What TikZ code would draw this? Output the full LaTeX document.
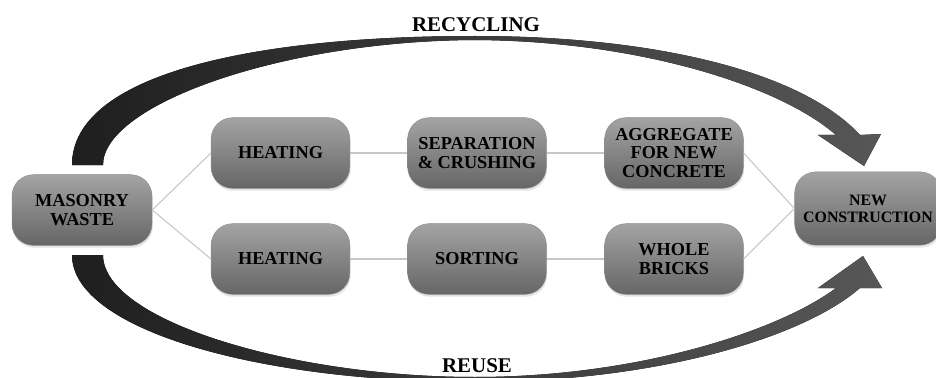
\documentclass[tikz,border=0pt]{standalone}
\usepackage{fontspec}
\setmainfont{Liberation Serif}
\usetikzlibrary{shadows}
\begin{document}
\begin{tikzpicture}[x=0.75pt,y=-0.75pt,
  box/.style={rounded corners=16pt, minimum width=104pt, minimum height=53pt,
    top color=black!36, bottom color=black!60, draw=black!45, line width=0.3pt,
    align=center, font=\fontsize{13.7}{14.2}\selectfont\bfseries, text=black,
    drop shadow={opacity=0.22, shadow xshift=0.6pt, shadow yshift=-1.8pt}, inner sep=1pt},
  link/.style={draw=black!22, line width=0.8pt},
  bigarrow/.style={left color=black!88, right color=black!66, draw=none},
  title/.style={font=\fontsize{15.7}{16}\selectfont\bfseries, text=black}
]
\useasboundingbox (0,0) rectangle (936,378);

% curved block arrows
\fill[bigarrow] (72,165) .. controls (72,75) and (250,36) .. (475,36)
  .. controls (650,36) and (800,70) .. (860,135) -- (881,134) -- (864,166)
  -- (818,135) -- (836,135) .. controls (780,86) and (640,41) .. (475,40)
  .. controls (280,41) and (103,105) .. (103,165) -- cycle;
\fill[bigarrow] (72,255) .. controls (72,330) and (260,382) .. (475,382)
  .. controls (650,382) and (800,340) .. (860,288) -- (882,288) -- (863,256)
  -- (818,288) -- (836,288) .. controls (780,330) and (640,377) .. (475,377)
  .. controls (290,377) and (103,320) .. (103,255) -- cycle;

\node[title] (rec) at (476,25) {RECYCLING};
\node[title, fill=white, inner sep=0.5pt] (reu) at (477,366) {REUSE};

% process boxes
\node[box, minimum width=105pt] (mw) at (82,210) {MASONRY\\WASTE};
\node[box] (h1) at (280.5,153) {HEATING};
\node[box] (sep) at (477,153) {SEPARATION\\\& CRUSHING};
\node[box] (agg) at (674,153) {AGGREGATE\\FOR NEW\\CONCRETE};
\node[box] (h2) at (280.5,259) {HEATING};
\node[box] (sort) at (477,259) {SORTING};
\node[box] (wb) at (674,259) {WHOLE\\BRICKS};
\node[box, minimum width=110pt, minimum height=55pt,
  font=\fontsize{11.9}{12.8}\selectfont\bfseries] (nc) at (868,208.5) {NEW\\CONSTRUCTION};

% connectors
\draw[link] (mw.east) -- (h1.west);
\draw[link] (mw.east) -- (h2.west);
\draw[link] (h1.east) -- (sep.west);
\draw[link] (sep.east) -- (agg.west);
\draw[link] (h2.east) -- (sort.west);
\draw[link] (sort.east) -- (wb.west);
\draw[link] (agg.east) -- (nc.west);
\draw[link] (wb.east) -- (nc.west);
\end{tikzpicture}
\end{document}
